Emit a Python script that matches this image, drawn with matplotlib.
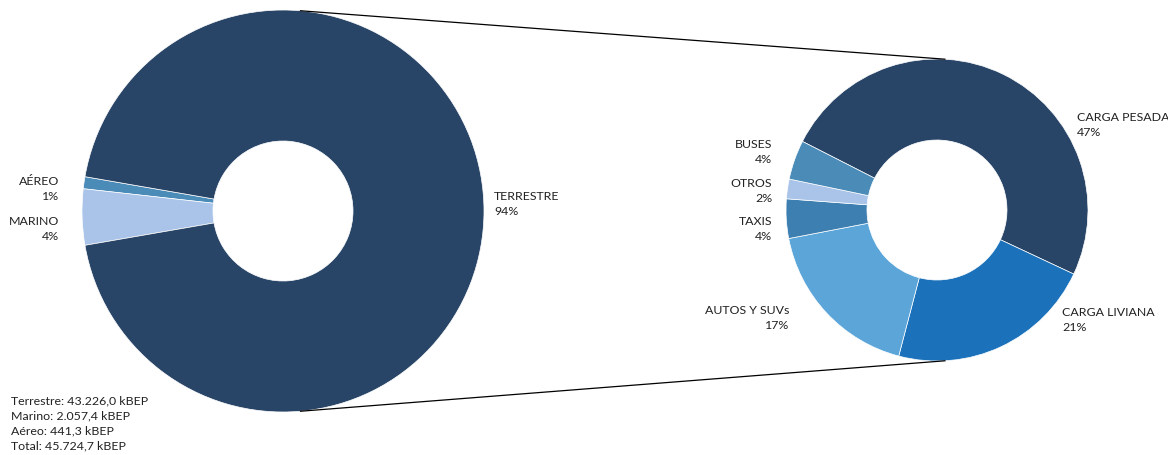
import matplotlib.pyplot as plt
import numpy as np

plt.rcParams['font.family'] = ['Lato', 'DejaVu Sans']

# main split (kBEP)
modos = ['AÉREO', 'MARINO', 'TERRESTRE']
consumo = [441.3, 2057.4, 43226.0]
pct_modos = ['1%', '4%', '94%']

# breakdown of terrestre (% shown)
sub = ['CARGA PESADA', 'CARGA LIVIANA', 'AUTOS Y SUVs', 'TAXIS', 'OTROS', 'BUSES']
sub_pct = [47, 21, 17, 4, 2, 4]

resumen = ['Terrestre: 43.226,0 kBEP', 'Marino: 2.057,4 kBEP',
           'Aéreo: 441,3 kBEP', 'Total: 45.724,7 kBEP']

navy = '#284466'
col_left = ['#4a8bb8', '#a9c4e8', navy]
col_right = [navy, '#1b72bb', '#5ba5d9', '#3d7fb0', '#a9c4e8', '#4a8bb8']
txt = '#222222'

W, H = 1168, 456
fig = plt.figure(figsize=(W / 100, H / 100), dpi=100)
ax = fig.add_axes([0, 0, 1, 1])

c1, r1 = (283, H - 212), 201
c2, r2 = (937, H - 211), 151

tot = sum(consumo)
start1 = 180 - 360 * (consumo[0] + consumo[1]) / tot / 2
ax.pie(consumo, colors=col_left, startangle=start1, counterclock=True,
       center=c1, radius=r1,
       wedgeprops=dict(width=r1 - 70, edgecolor='white', linewidth=0.5))
ax.pie(sub_pct, colors=col_right, startangle=153, counterclock=False,
       center=c2, radius=r2,
       wedgeprops=dict(width=r2 - 70, edgecolor='white', linewidth=0.5))

# connector lines
for a1, a2 in [(85, 87), (-85, -87)]:
    x1 = c1[0] + r1 * np.cos(np.radians(a1))
    y1 = c1[1] + r1 * np.sin(np.radians(a1))
    x2 = c2[0] + r2 * np.cos(np.radians(a2))
    y2 = c2[1] + r2 * np.sin(np.radians(a2))
    ax.plot([x1, x2], [y1, y2], color='black', lw=0.9)

fs = 8.9
def lab(x, y, s, ha):
    ax.text(x, H - y, s, ha=ha, va='center', fontsize=fs, color=txt,
            linespacing=1.45)

lab(59, 189, modos[0] + '\n' + pct_modos[0], 'right')
lab(59, 229, modos[1] + '\n' + pct_modos[1], 'right')
lab(494, 204, modos[2] + '\n' + pct_modos[2], 'left')

lab(1077, 125, sub[0] + '\n%d%%' % sub_pct[0], 'left')
lab(1062, 320, sub[1] + '\n%d%%' % sub_pct[1], 'left')
lab(789, 318, sub[2] + '\n%d%%' % sub_pct[2], 'right')
lab(772, 229, sub[3] + '\n%d%%' % sub_pct[3], 'right')
lab(772, 191, sub[4] + '\n%d%%' % sub_pct[4], 'right')
lab(772, 152, sub[5] + '\n%d%%' % sub_pct[5], 'right')

ax.text(11, H - 423, '\n'.join(resumen), ha='left', va='center',
        fontsize=fs, color=txt, linespacing=1.45)

ax.set_xlim(0, W)
ax.set_ylim(0, H)
ax.set_aspect('auto')
ax.axis('off')

fig.savefig('out.png', dpi=100)
